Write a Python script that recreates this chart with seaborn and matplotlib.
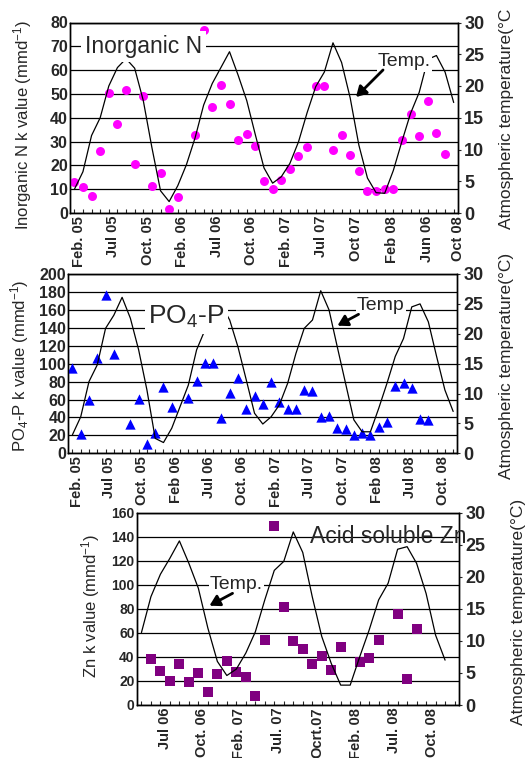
import numpy as np
import pandas as pd
import matplotlib
matplotlib.use("Agg")
import matplotlib.pyplot as plt
import matplotlib.patches as mpatches
import seaborn as sns
from matplotlib.ticker import MultipleLocator

# ---------------- data ----------------
# Panel 1: inorganic N (category index = sampling occasion)
n_temp = [3.7, 6.5, 12.2, 15.0, 20.0, 22.9, 24.3, 22.8, 17.7, 10.3, 3.5, 1.8, 4.3, 7.6,
          11.8, 17.0, 20.4, 22.9, 25.4, 21.7, 17.7, 12.3, 7.1, 4.7, 5.7, 7.8, 11.2, 15.8,
          19.9, 22.2, 26.8, 23.7, 18.1, 10.7, 5.5, 3.2, 3.1, 6.7, 11.3, 15.7, 19.0, 24.2,
          24.8, 22.2, 17.4]
n_k = [12.9, 10.8, 7.0, 26.2, 50.3, 37.3, 51.5, 20.6, 49.0, 11.5, 16.8, 1.7, 6.6, np.nan,
       32.9, 76.9, 44.5, 53.8, 45.9, 30.8, 33.1, 28.3, 13.3, 10.2, 13.7, 18.5, 23.8, 27.6,
       53.4, 53.4, 26.6, 32.9, 24.2, 17.5, 9.4, 9.1, 10.1, 10.2, 30.8, 41.5, 32.2, 46.9,
       33.8, 24.8]
n_ticklabels = ["Feb. 05", "Jul 05", "Oct. 05", "Feb. 06", "Jul 06", "Oct. 06", "Feb. 07",
                "Jul 07", "Oct 07", "Feb 08", "Jun 06", "Oct 08"]
n_tickpos = [0.5, 4.5, 8.5, 12.5, 16.5, 20.5, 24.6, 28.6, 32.7, 36.8, 40.9, 44.5]

# Panel 2: PO4-P
p_temp = [3.1, 6.1, 12.0, 14.8, 20.9, 23.1, 26.1, 22.6, 17.3, 10.6, 2.5, 1.8, 4.2, 7.8,
          11.4, 17.3, 20.6, 23.0, 24.8, 22.3, 17.8, 12.3, 6.7, 4.9, 6.1, 8.1, 11.7, 16.7,
          20.9, 22.3, 27.2, 24.0, 17.8, 11.7, 5.6, 3.6, 3.6, 7.5, 11.7, 16.2, 19.2, 24.5,
          25.0, 22.0, 16.2, 10.6, 7.0]
p_k = [94.8, 21.2, 59.5, 106.0, 177.0, 110.8, np.nan, 32.7, 60.6, 10.0, 22.3, 74.3, 52.0,
       np.nan, 61.3, 81.0, 100.4, 100.4, 39.8, 67.7, 84.4, 49.1, 64.3, 54.6, 79.9, 56.9,
       49.8, 49.8, 70.6, 69.9, 40.1, 41.6, 28.6, 26.8, 20.1, 22.3, 20.1, 29.7, 35.3, 75.1,
       78.8, 72.5, 38.3, 37.2]
p_ticklabels = ["Feb. 05", "Jul 05", "Oct. 05", "Feb 06", "Jul 06", "Oct. 06", "Feb. 07",
                "Jul 07", "Oct. 07", "Feb 08", "Jul 08", "Oct. 08"]
p_tickpos = [0.5, 4.4, 8.4, 12.5, 16.5, 20.5, 24.6, 28.6, 32.7, 36.8, 40.8, 44.8]

# Panel 3: acid soluble Zn
z_temp = [11.3, 16.9, 20.4, 22.9, 25.6, 22.1, 18.2, 12.0, 6.8, 4.6, 5.6, 8.1, 11.4, 16.4,
          21.0, 22.4, 27.0, 23.8, 16.9, 10.7, 6.5, 3.1, 3.1, 7.5, 11.7, 16.4, 19.0, 24.3,
          24.7, 22.1, 17.4, 10.9, 7.0]
z_k = [np.nan, 38.0, 28.6, 20.0, 33.8, 18.9, 26.3, 11.1, 25.5, 36.9, 27.7, 23.6, 7.5, 54.1,
       148.9, 81.8, 53.2, 46.3, 33.8, 40.8, 29.1, 48.5, np.nan, 36.0, 39.4, 54.1, np.nan,
       75.4, 21.4, 63.0]
z_ticklabels = ["Jul 06", "Oct. 06", "Feb. 07", "Jul. 07", "Ocrt.07", "Feb. 08",
                "Jul. 08", "Oct. 08"]
z_tickpos = [2.5, 6.4, 10.3, 14.4, 18.5, 22.6, 26.6, 30.6]

# ---------------- style ----------------
sns.set_style("white")
plt.rcParams['font.family'] = ['Liberation Sans', 'DejaVu Sans']
plt.rcParams['mathtext.fontset'] = 'custom'
plt.rcParams['mathtext.rm'] = 'Liberation Sans'
plt.rcParams['mathtext.it'] = 'Liberation Sans:italic'
plt.rcParams['mathtext.bf'] = 'Liberation Sans:bold'
plt.rcParams['axes.edgecolor'] = 'black'
plt.rcParams['axes.linewidth'] = 1.0

W, H = 526, 758
fig = plt.figure(figsize=(W / 100, H / 100), dpi=100)


def rect(l, r, t, b):
    return [l / W, 1 - b / H, (r - l) / W, (b - t) / H]


def fx(x):
    return x / W


def fy(y):
    return 1 - y / H


def panel(r, n_cat, ymax, ystep, temp, kvals, tickpos, ticklabels, marker, color, size,
          ylab_size=11.5):
    ax = fig.add_axes(r)
    ax.set_xlim(-0.5, n_cat - 0.5)
    ax.set_ylim(0, ymax)
    df = pd.DataFrame({"idx": np.arange(len(kvals)), "k": kvals}).dropna()
    sns.scatterplot(data=df, x="idx", y="k", ax=ax, marker=marker, s=size,
                    color=color, linewidth=0, zorder=3, legend=False)
    ax.set_yticks(np.arange(0, ymax + 1, ystep))
    ax.yaxis.grid(True, color='black', lw=0.9)
    ax.xaxis.grid(False)
    ax.set_axisbelow(True)
    ax.set_xticks(tickpos)
    ax.set_xticklabels(ticklabels, rotation=90, fontweight='bold', fontsize=10.5)
    ax.xaxis.set_minor_locator(MultipleLocator(1))
    ax.tick_params(axis='x', which='major', length=0, pad=2)
    ax.tick_params(axis='x', which='minor', length=3, direction='in', width=0.8,
                   bottom=True)
    ax.tick_params(axis='y', length=0, pad=1.5, labelsize=ylab_size)
    for lab in ax.get_yticklabels():
        lab.set_fontweight('bold')
    ax.set_xlabel("")
    ax.set_ylabel("")
    for s in ax.spines.values():
        s.set_visible(True)
        s.set_color('black')

    axt = ax.twinx()
    tdf = pd.DataFrame({"idx": np.arange(len(temp)), "t": temp})
    sns.lineplot(data=tdf, x="idx", y="t", ax=axt, color='black', lw=0.9)
    axt.set_ylim(0, 30)
    axt.set_xlim(-0.5, n_cat - 0.5)
    axt.set_yticks(np.arange(0, 31, 5))
    axt.tick_params(axis='y', length=2.5, width=0.8, direction='out', pad=2,
                    labelsize=13, right=True)
    for lab in axt.get_yticklabels():
        lab.set_fontweight('bold')
    axt.set_xlabel("")
    axt.set_ylabel("")
    axt.grid(False)
    return ax, axt


ax1, ax1t = panel(rect(70, 458, 22.5, 213), 45, 80, 10, n_temp, n_k,
                  n_tickpos, n_ticklabels, 'o', '#FF00FF', 42)
ax2, ax2t = panel(rect(68.3, 457.3, 274, 453.3), 47, 200, 20, p_temp, p_k,
                  p_tickpos, p_ticklabels, '^', '#0000FF', 55)
ax3, ax3t = panel(rect(136.7, 459.3, 512.7, 705), 34, 160, 20, z_temp, z_k,
                  z_tickpos, z_ticklabels, 's', '#800080', 52, ylab_size=10)

# axis titles
fig.text(fx(23), fy(125), "Inorganic N k value (mmd$^{-1}$)", rotation=90,
         ha='center', va='center', fontsize=12)
fig.text(fx(20), fy(366), "PO$_4$-P k value (mmd$^{-1}$)", rotation=90,
         ha='center', va='center', fontsize=12)
fig.text(fx(91), fy(606), "Zn k value (mmd$^{-1}$)", rotation=90,
         ha='center', va='center', fontsize=12)
fig.text(fx(506), fy(119), "Atmospheric temperature(°C", rotation=90,
         ha='center', va='center', fontsize=12.5)
fig.text(fx(506), fy(366), "Atmospheric temperature(°C)", rotation=90,
         ha='center', va='center', fontsize=12.5)
fig.text(fx(518), fy(612), "Atmospheric temperature(°C)", rotation=90,
         ha='center', va='center', fontsize=12.5)

box = dict(facecolor='white', edgecolor='none', pad=1.0)

# panel labels
fig.text(fx(85), fy(53), "Inorganic N", fontsize=16.5, ha='left', va='baseline',
         bbox=dict(facecolor='white', edgecolor='none', pad=3.0), zorder=10)
fig.text(fx(148), fy(324), "PO$_4$-P", fontsize=19, ha='left', va='baseline',
         bbox=dict(facecolor='white', edgecolor='none', pad=2.5), zorder=10)
fig.text(fx(310), fy(543), "Acid soluble Zn", fontsize=16.5, ha='left', va='baseline',
         zorder=10)

# Temp. annotations with arrows
astyle = '-|>,head_length=6,head_width=3.5'
fig.text(fx(378), fy(66.5), "Temp.", fontsize=14, ha='left', va='baseline',
         bbox=box, zorder=10)
fig.add_artist(mpatches.FancyArrowPatch(
    (fx(385), fy(68)), (fx(354), fy(99)), transform=fig.transFigure,
    arrowstyle=astyle, lw=2.0, color='black', zorder=11))

fig.text(fx(357), fy(310.5), "Temp", fontsize=14, ha='left', va='baseline',
         bbox=box, zorder=10)
fig.add_artist(mpatches.FancyArrowPatch(
    (fx(361), fy(313)), (fx(335), fy(327)), transform=fig.transFigure,
    arrowstyle=astyle, lw=2.0, color='black', zorder=11))

fig.text(fx(210), fy(589), "Temp.", fontsize=14, ha='left', va='baseline',
         bbox=box, zorder=10)
fig.add_artist(mpatches.FancyArrowPatch(
    (fx(235), fy(592)), (fx(207), fy(607)), transform=fig.transFigure,
    arrowstyle=astyle, lw=2.0, color='black', zorder=11))

fig.savefig("out.png", dpi=100)
